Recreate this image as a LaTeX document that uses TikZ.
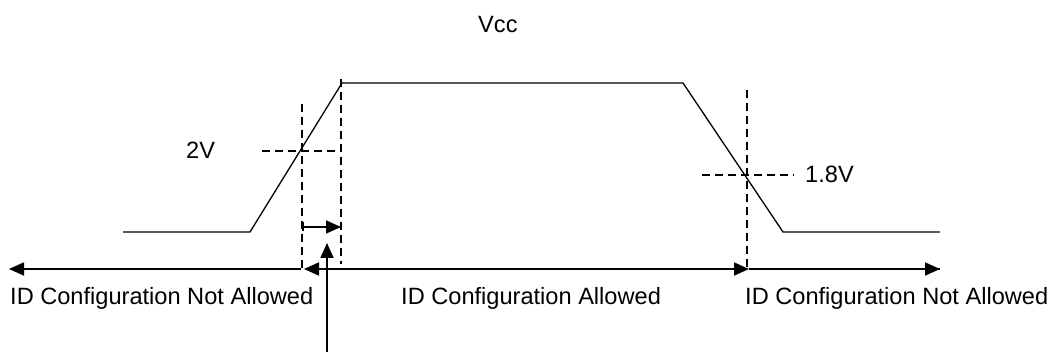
\documentclass[tikz,border=0pt]{standalone}
\usepackage{fontspec}
\setmainfont{Liberation Sans}
\usetikzlibrary{arrows.meta}
\begin{document}
\begin{tikzpicture}[x=1pt,y=-1pt,
  lbl/.style={inner sep=0pt,anchor=base west,font=\fontsize{23.6}{28}\selectfont},
  wave/.style={line width=1.3pt,line join=miter},
  guide/.style={line width=1.2pt,dash pattern=on 8pt off 5pt},
  arr/.style={line width=1.8pt},
  tip/.style={-{Triangle[length=15pt,width=13pt]}}]
\useasboundingbox (0,0) rectangle (1056,352);
% waveform
\coordinate (w0) at (123,232);
\coordinate (w1) at (250,232);
\coordinate (w2) at (342,83);
\coordinate (w3) at (683,83);
\coordinate (w4) at (783,232);
\coordinate (w5) at (940,232);
\draw[wave] (w0) -- (w1) -- (w2) -- (w3) -- (w4) -- (w5);
% guides
\coordinate (g1t) at (302,104);
\coordinate (g1b) at (302,270);
\coordinate (g2t) at (341,79);
\coordinate (g2b) at (341,264);
\coordinate (g3t) at (747,90);
\coordinate (g3b) at (747,270);
\coordinate (h1a) at (262,151);
\coordinate (h1b) at (341,151);
\coordinate (h2a) at (702,175);
\coordinate (h2b) at (794,175);
\draw[guide] (g1t) -- (g1b);
\draw[guide] (g2t) -- (g2b);
\draw[guide] (g3t) -- (g3b);
\draw[guide] (h1a) -- (h1b);
\draw[guide] (h2a) -- (h2b);
% arrows
\coordinate (aL) at (9,269);
\coordinate (a1) at (301,269);
\coordinate (a2) at (304,269);
\coordinate (a3) at (749,269);
\coordinate (a4) at (940,269);
\draw[arr,tip] (a1) -- (aL);
\draw[arr,{Triangle[length=15pt,width=13pt]}-{Triangle[length=15pt,width=13pt]}] (a2) -- (a3);
\draw[arr] (a3) -- (a4);
\draw[arr,tip] (a3) -- (a4);
\coordinate (s1) at (302,227);
\coordinate (s2) at (341,227);
\draw[line width=1.6pt,{Bar[width=9pt]}-{Triangle[length=15pt,width=13pt]}] (s1) -- (s2);
\coordinate (v1) at (327,352);
\coordinate (v2) at (327,243);
\draw[arr,tip] (v1) -- (v2);
% labels
\node[lbl] (vcc) at (478,33) {Vcc};
\node[lbl] (t2v) at (186,159) {2V};
\node[lbl] (t18) at (805,183) {1.8V};
\node[lbl] (nal) at (10,304) {ID Configuration Not Allowed};
\node[lbl] (al) at (401,304) {ID Configuration Allowed};
\node[lbl] (nar) at (745,304) {ID Configuration Not Allowed};
\end{tikzpicture}
\end{document}
